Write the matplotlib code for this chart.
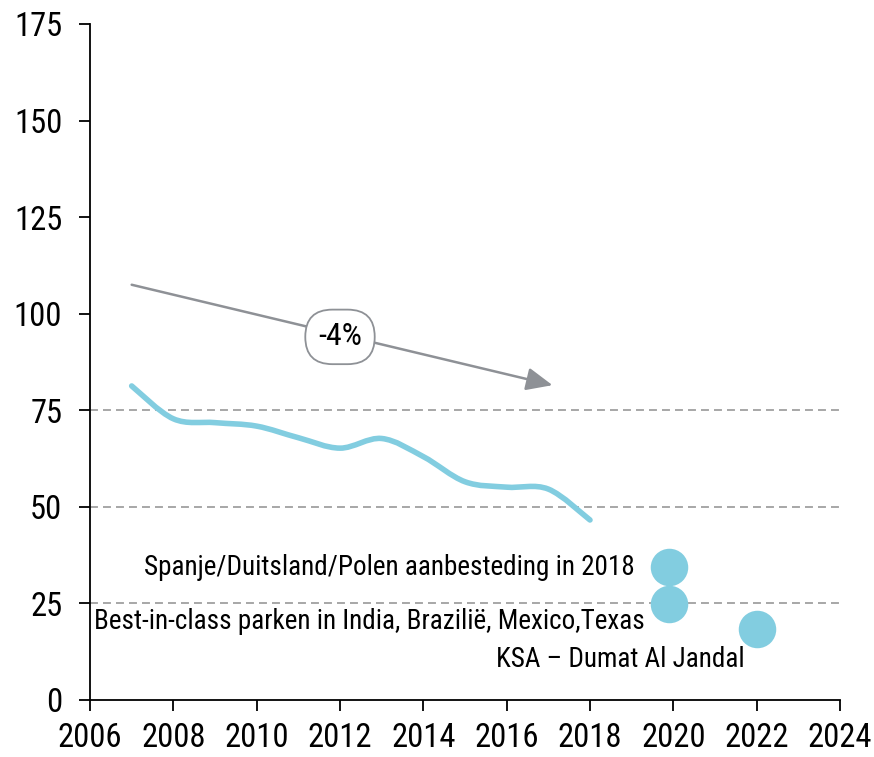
import matplotlib
matplotlib.use("Agg")
import matplotlib.pyplot as plt
from matplotlib.path import Path
from matplotlib.patches import PathPatch
import numpy as np

# ---- data ----
years = [2007, 2008, 2009, 2010, 2011, 2012, 2013, 2014, 2015, 2016, 2017, 2018]
values = [81.3, 72.8, 71.8, 70.9, 67.9, 65.2, 67.7, 63.0, 56.5, 55.1, 54.6, 46.6]

point_x = [2019.9, 2019.9, 2022.0]
point_y = [34.5, 24.8, 18.4]
point_labels = ["Spanje/Duitsland/Polen aanbesteding in 2018",
                "Best-in-class parken in India, Brazilië, Mexico,Texas",
                "KSA – Dumat Al Jandal"]
label_pos = [(2019.08, 34.4), (2019.32, 20.4), (2021.72, 10.4)]

trend_start = (2007.0, 107.5)
trend_end = (2017.1, 81.5)
trend_label = "-4%"
trend_label_pos = (2012.0, 94.0)

xticks = list(range(2006, 2025, 2))
yticks = list(range(0, 176, 25))
gridlines = [25, 50, 75]

# ---- font ----
plt.rcParams['font.family'] = ['Roboto Condensed', 'Liberation Sans', 'DejaVu Sans']

line_color = "#82CDE0"
arrow_color = "#8E9196"

fig = plt.figure(figsize=(8.74, 7.57), dpi=100)
ax = fig.add_axes([90/874, 57/757, 750/874, 676/757])
ax.set_xlim(2006, 2024)
ax.set_ylim(0, 175)

# smooth line (Catmull-Rom through the data points as cubic Bezier)
xs = np.array(years, float); ys = np.array(values, float)
verts = [(xs[0], ys[0])]; codes = [Path.MOVETO]
n = len(xs)
for i in range(n - 1):
    p0 = np.array([xs[max(i-1, 0)], ys[max(i-1, 0)]])
    p1 = np.array([xs[i], ys[i]])
    p2 = np.array([xs[i+1], ys[i+1]])
    p3 = np.array([xs[min(i+2, n-1)], ys[min(i+2, n-1)]])
    c1 = p1 + (p2 - p0) / 6.0
    c2 = p2 - (p3 - p1) / 6.0
    verts += [tuple(c1), tuple(c2), tuple(p2)]
    codes += [Path.CURVE4] * 3
ax.add_patch(PathPatch(Path(verts, codes), facecolor='none', edgecolor=line_color,
                       lw=4.0, capstyle='round', joinstyle='round', zorder=3))

for g in gridlines:
    ax.axhline(g, color="#A0A0A0", lw=1.3, ls=(0, (4.4, 2.8)), zorder=1)

ax.plot(point_x, point_y, 'o', ms=27, color=line_color, mec='none', zorder=4)
for (lx, ly), t in zip(label_pos, point_labels):
    ax.text(lx, ly, t, ha='right', va='center', fontsize=19.5, color='black', zorder=5)

ax.annotate("", xy=trend_end, xytext=trend_start,
            arrowprops=dict(arrowstyle="-|>,head_length=1.6,head_width=0.7",
                        color=arrow_color, lw=1.8, shrinkA=0, shrinkB=0), zorder=2)
ax.text(*trend_label_pos, trend_label, ha='center', va='center', fontsize=23,
        bbox=dict(boxstyle="round,pad=0.4,rounding_size=0.85", fc='white', ec=arrow_color, lw=1.3),
        zorder=6)

ax.spines['top'].set_visible(False)
ax.spines['right'].set_visible(False)
for s in ['left', 'bottom']:
    ax.spines[s].set_linewidth(1.3)
ax.set_xticks(xticks)
ax.set_yticks(yticks)
ax.tick_params(axis='both', labelsize=23.5, width=1.3, length=8, direction='out')
ax.tick_params(axis='x', pad=8)
ax.tick_params(axis='y', pad=12)

fig.savefig("out.png", dpi=100)
